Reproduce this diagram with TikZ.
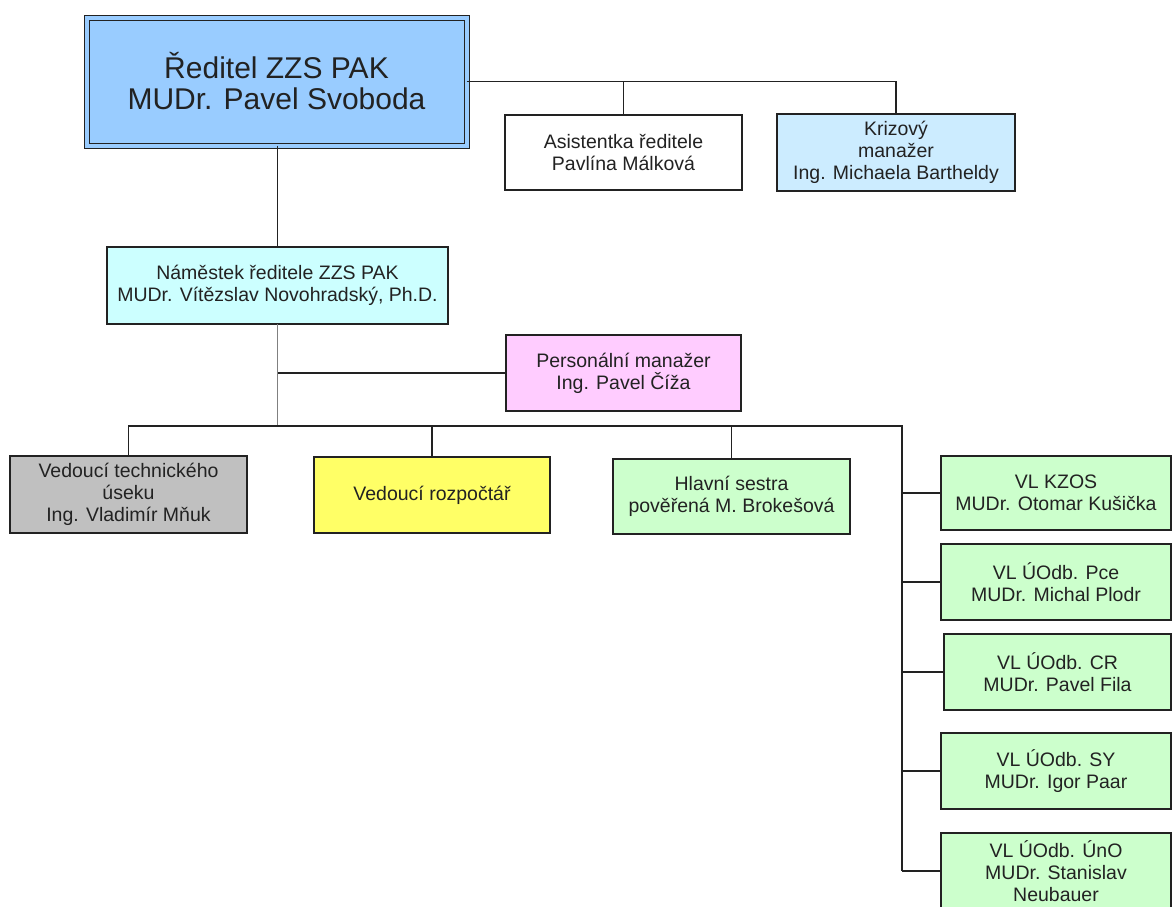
\documentclass[tikz,border=0pt]{standalone}
\usepackage{fontspec}
\setmainfont{Liberation Sans}
\definecolor{dirblue}{HTML}{99CCFF}
\definecolor{krzblue}{HTML}{CCECFF}
\definecolor{namcyan}{HTML}{CCFFFF}
\definecolor{perspink}{HTML}{FFCCFF}
\definecolor{vtgray}{HTML}{C0C0C0}
\definecolor{rozpyel}{HTML}{FFFF66}
\definecolor{vlgreen}{HTML}{CCFFCC}
\definecolor{linec}{HTML}{222222}
\tikzset{
  orgbox/.style={draw=linec, line width=1.3pt, inner sep=0pt, outer sep=0pt, align=center,
    text=linec, font=\fontsize{19.5}{22}\selectfont},
  conn/.style={draw=linec, line width=1.3pt},
}
\begin{document}
\begin{tikzpicture}[x=1pt,y=-1pt]
\clip (0,0) rectangle (1173,906);
\fill[white] (0,0) rectangle (1173,906);

% director
\node[orgbox, fill=dirblue, double=dirblue, double distance=4pt, line width=1pt,
  minimum width=380pt, minimum height=128pt, font=\fontsize{30}{31}\selectfont] (dir) at (276.5,81.5)
  {Ředitel ZZS PAK\\MUDr. Pavel Svoboda};

\node[orgbox, fill=white, minimum width=237pt, minimum height=75pt] (asis) at (623.5,152.5)
  {Asistentka ředitele\\Pavlína Málková};
\node[orgbox, fill=krzblue, minimum width=238pt, minimum height=77pt] (krz) at (896,152.5)
  {Krizový\\manažer\\Ing. Michaela Bartheldy};

\node[orgbox, fill=namcyan, minimum width=341pt, minimum height=77pt] (nam) at (277.5,285.5)
  {Náměstek ředitele ZZS PAK\\MUDr. Vítězslav Novohradský, Ph.D.};
\node[orgbox, fill=perspink, minimum width=235pt, minimum height=76pt] (pers) at (623.5,373)
  {Personální manažer\\Ing. Pavel Číža};

\node[orgbox, fill=vtgray, minimum width=237pt, minimum height=77pt] (vt) at (128.5,494.5)
  {Vedoucí technického\\úseku\\Ing. Vladimír Mňuk};
\node[orgbox, fill=rozpyel, minimum width=236pt, minimum height=76pt] (rozp) at (432,495)
  {Vedoucí rozpočtář};
\node[orgbox, fill=vlgreen, minimum width=237pt, minimum height=75pt] (hs) at (731.5,496.5)
  {Hlavní sestra\\pověřená M. Brokešová};

\node[orgbox, fill=vlgreen, minimum width=230pt, minimum height=74pt] (kzos) at (1056,493)
  {VL KZOS\\MUDr. Otomar Kušička};
\node[orgbox, fill=vlgreen, minimum width=230pt, minimum height=76pt] (pce) at (1056,582)
  {VL ÚOdb. Pce\\MUDr. Michal Plodr};
\node[orgbox, fill=vlgreen, minimum width=227pt, minimum height=76pt] (cr) at (1057.5,672)
  {VL ÚOdb. CR\\MUDr. Pavel Fila};
\node[orgbox, fill=vlgreen, minimum width=230pt, minimum height=76pt] (sy) at (1056,771)
  {VL ÚOdb. SY\\MUDr. Igor Paar};
\node[orgbox, fill=vlgreen, minimum width=230pt, minimum height=76pt] (uno) at (1056,871)
  {VL ÚOdb. ÚnO\\MUDr. Stanislav\\Neubauer};

\coordinate (bus) at (902,426);

% connectors
\draw[conn] (dir.east) -| (krz.north);
\draw[conn] (asis.north) -- (asis.north |- dir.east);
\draw[conn] (nam.north |- dir.south) -- (nam.north);
\draw[conn, draw=gray] (nam.south) -- (nam.south |- bus);
\draw[conn] (pers.west) -- (pers.west -| nam.south);
\draw[conn] (vt.north) |- (bus) -- (bus |- uno.west);
\draw[conn] (rozp.north) -- (rozp.north |- bus);
\draw[conn] (hs.north) -- (hs.north |- bus);
\draw[conn] (kzos.west) -- (kzos.west -| bus);
\draw[conn] (pce.west) -- (pce.west -| bus);
\draw[conn] (cr.west) -- (cr.west -| bus);
\draw[conn] (sy.west) -- (sy.west -| bus);
\draw[conn] (uno.west) -- (uno.west -| bus);
\end{tikzpicture}
\end{document}
